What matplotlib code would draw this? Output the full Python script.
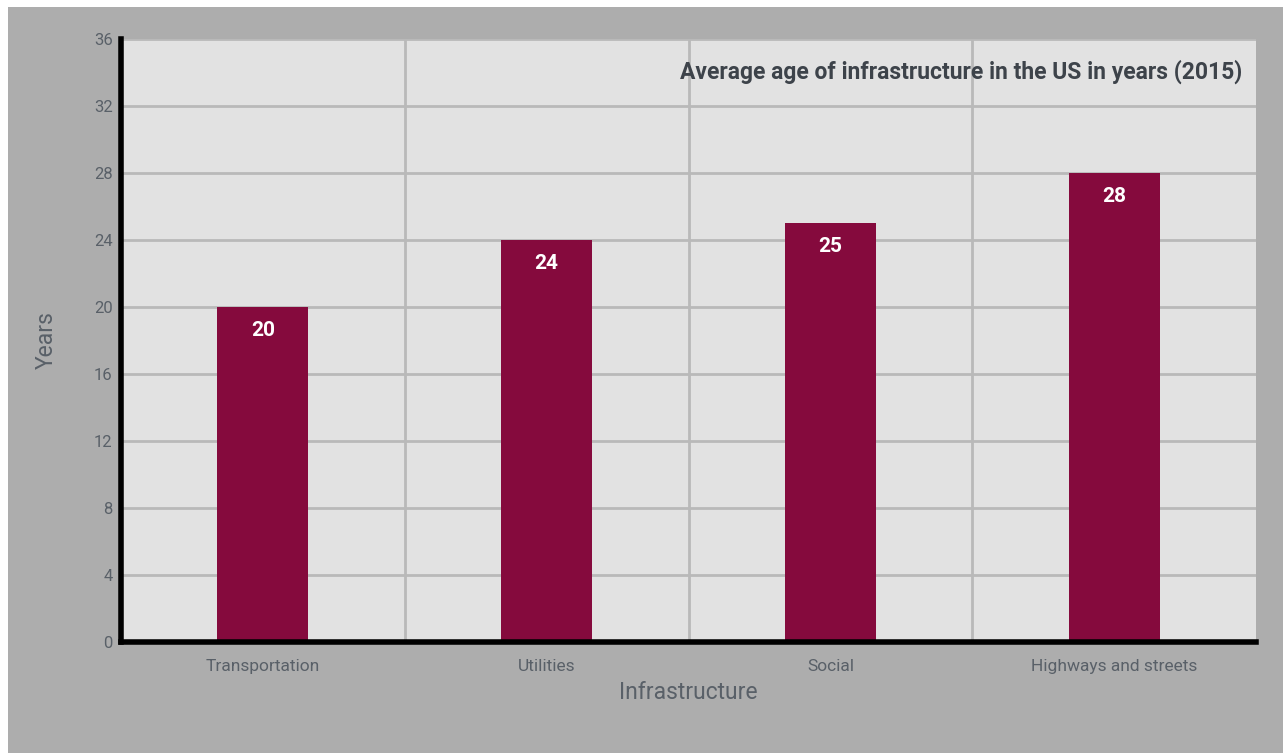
import matplotlib.pyplot as plt
from matplotlib.patches import Rectangle

categories = ['Transportation', 'Utilities', 'Social', 'Highways and streets']
ages = [20, 24, 25, 28]
yticks = [0, 4, 8, 12, 16, 20, 24, 28, 32, 36]

plt.rcParams['font.family'] = ['Roboto', 'DejaVu Sans']

fig = plt.figure(figsize=(12.83, 7.53), dpi=100, facecolor='#adadad')
# white strip along top and left edges
fig.patches.append(Rectangle((0, 0.9907), 1, 0.0093, transform=fig.transFigure,
                             facecolor='white', edgecolor='none'))
fig.patches.append(Rectangle((0, 0), 0.0062, 1, transform=fig.transFigure,
                             facecolor='white', edgecolor='none'))

ax = fig.add_axes([121 / 1283, 1 - 642 / 753, (1256 - 121) / 1283, (642 - 39) / 753])
ax.set_facecolor('#e2e2e2')

x = list(range(len(categories)))
bars = ax.bar(x, ages, width=0.32, color='#850a3d', zorder=3)

ax.set_xlim(-0.5, 3.5)
ax.set_ylim(0, 36)
ax.set_yticks(yticks)
ax.set_xticks(x)
ax.set_xticklabels(categories)

# grid: horizontal at ticks, vertical between categories
for y in yticks[1:]:
    ax.axhline(y, color='#b9b9b9', linewidth=2, zorder=1)
for xv in [0.5, 1.5, 2.5]:
    ax.axvline(xv, color='#b9b9b9', linewidth=2, zorder=1)

for s in ['top', 'right']:
    ax.spines[s].set_visible(False)
for s in ['left', 'bottom']:
    ax.spines[s].set_linewidth(4)
    ax.spines[s].set_color('black')
    ax.spines[s].set_zorder(4)

ax.tick_params(axis='both', length=0, labelcolor='#596068')
ax.tick_params(axis='x', pad=12, labelsize=12.5)
ax.tick_params(axis='y', pad=6, labelsize=12)

ax.set_xlabel('Infrastructure', fontsize=16.5, color='#596068', labelpad=5)
ax.set_ylabel('Years', fontsize=16.5, color='#596068', labelpad=26)

for bar, v in zip(bars, ages):
    ax.text(bar.get_x() + bar.get_width() / 2, v - 1.4, str(v), ha='center', va='center',
            color='white', fontsize=15, fontweight='bold', zorder=5)

ax.text(0.988, 0.946, 'Average age of infrastructure in the US in years (2015)',
        transform=ax.transAxes, ha='right', va='center', fontsize=16.5,
        fontweight='bold', color='#3d434a', zorder=5)

plt.savefig('out.png', dpi=100, facecolor=fig.get_facecolor())
